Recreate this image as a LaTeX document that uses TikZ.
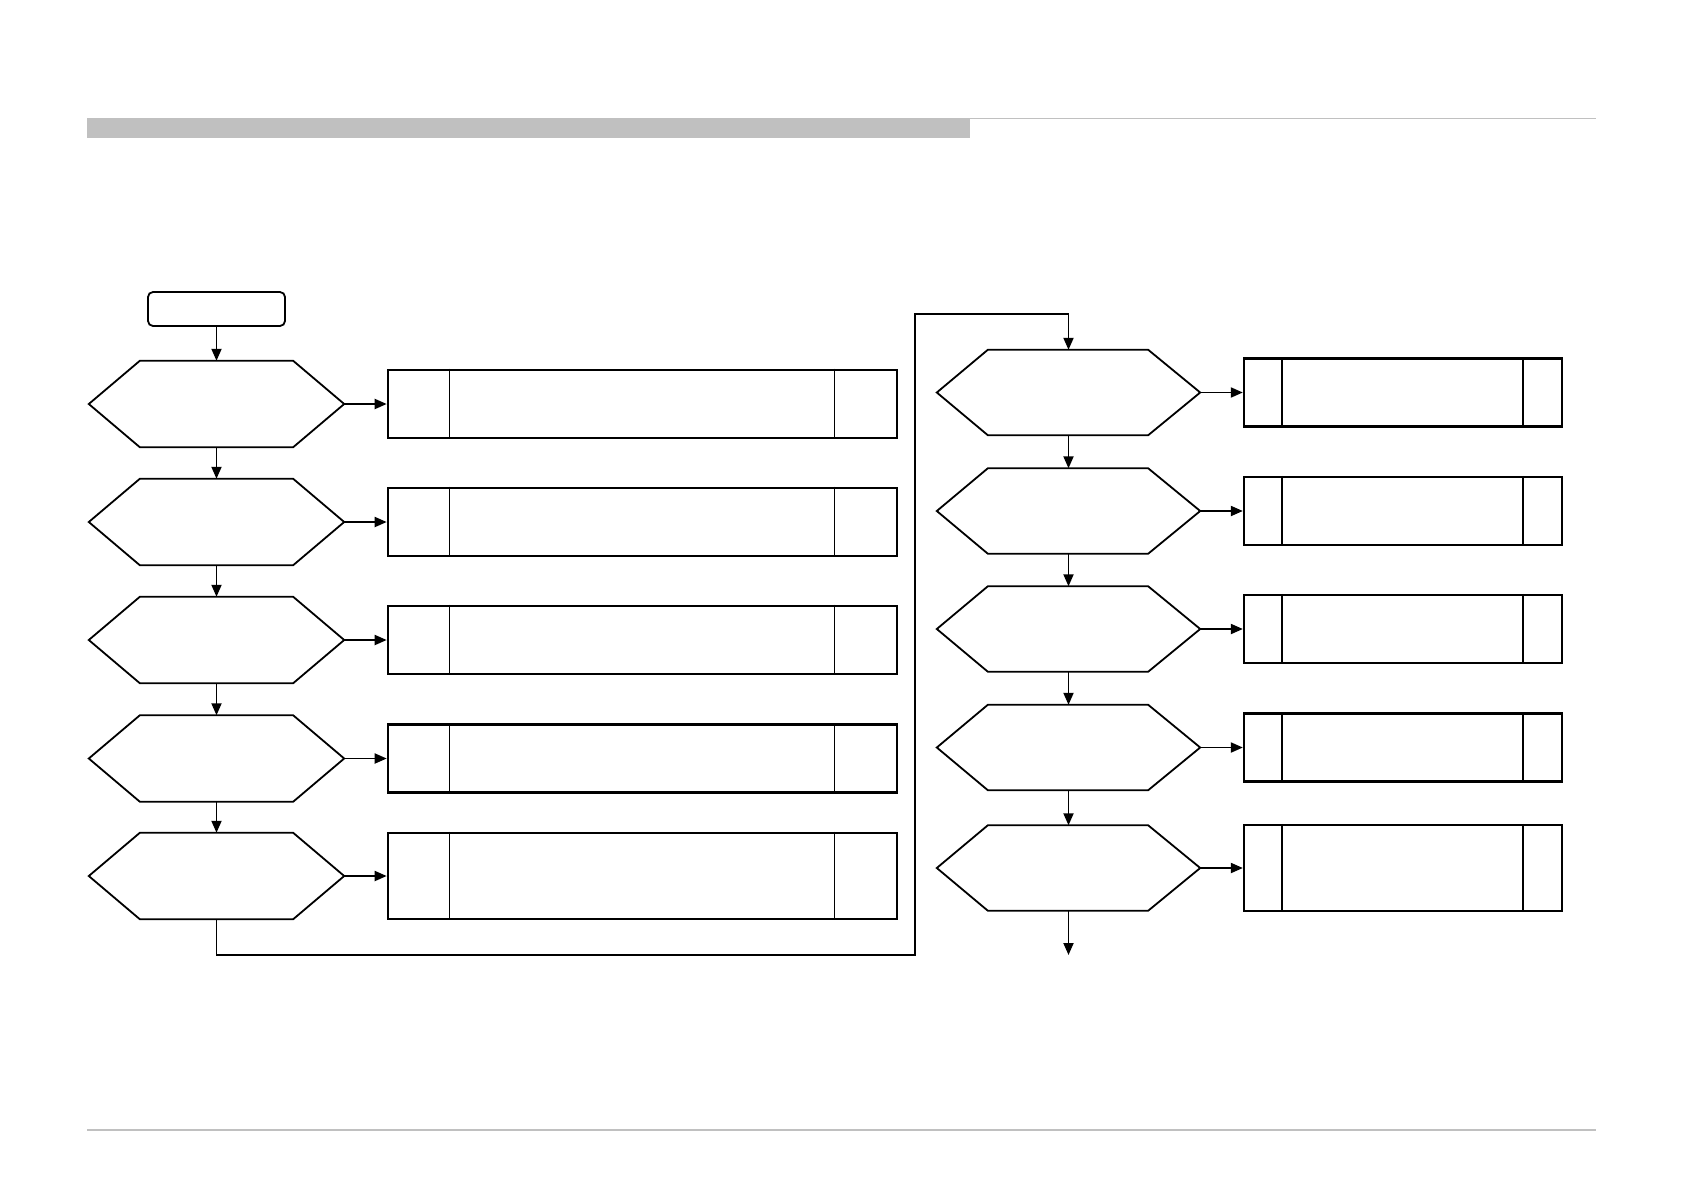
\documentclass[tikz,border=0pt]{standalone}
\usetikzlibrary{arrows.meta}
\definecolor{hdr}{RGB}{192,192,192}
\tikzset{
  hexbox/.style={rectangle,inner sep=0pt,minimum height=86pt},
  hexline/.style={line width=1.8pt,line join=miter},
  stepbox/.style={draw,rectangle,inner sep=0pt,line width=2.6pt},
  divline/.style={line width=1.5pt},
  startbox/.style={draw,rectangle,rounded corners=5pt,inner sep=0pt,minimum width=137pt,minimum height=34pt,line width=1.8pt},
  flow/.style={line width=1.9pt,-{Triangle[length=12pt,width=10pt]}},
  plain/.style={line width=1.9pt}
}
\begin{document}
\begin{tikzpicture}[x=1pt,y=-1pt]
\useasboundingbox (0,0) rectangle (1684,1191);
% header and footer
\fill[hdr] (87,118) rectangle (970,137.5);
\draw[hdr,line width=1.5pt] (970,118.5) -- (1596,118.5);
\draw[hdr,line width=1.5pt] (87,1130) -- (1596,1130);
% start
\node[startbox] (s) at (216.5,309) {};
% left column
\foreach \i/\y/\bh in {1/404/68,2/522/68,3/640/68,4/758.5/68,5/876/86}{
  \node[hexbox,minimum width=255pt] (h\i) at (216.5,\y) {};
  \draw[hexline] (h\i.west) -- ([xshift=51pt]h\i.north west) -- ([xshift=-51pt]h\i.north east) -- (h\i.east) -- ([xshift=-51pt]h\i.south east) -- ([xshift=51pt]h\i.south west) -- cycle;
  \node[stepbox,minimum width=509pt,minimum height=\bh pt] (b\i) at (642.5,\y) {};
  \draw[divline] ([xshift=63pt]b\i.north west) -- ([xshift=63pt]b\i.south west);
  \draw[divline] ([xshift=-64pt]b\i.north east) -- ([xshift=-64pt]b\i.south east);
  \draw[flow] (h\i.east) -- (b\i.west);
}
% right column
\foreach \i/\y/\bh in {1/392.5/68,2/511/68,3/629/68,4/747.5/68,5/868/86}{
  \node[hexbox,minimum width=263pt,minimum height=85pt] (r\i) at (1068.5,\y) {};
  \draw[hexline] (r\i.west) -- ([xshift=51pt]r\i.north west) -- ([xshift=-52pt]r\i.north east) -- (r\i.east) -- ([xshift=-52pt]r\i.south east) -- ([xshift=51pt]r\i.south west) -- cycle;
  \node[stepbox,line width=2.3pt,minimum width=318pt,minimum height=\bh pt] (c\i) at (1403,\y) {};
  \draw[divline] ([xshift=39pt]c\i.north west) -- ([xshift=39pt]c\i.south west);
  \draw[divline] ([xshift=-40pt]c\i.north east) -- ([xshift=-40pt]c\i.south east);
  \draw[flow] (r\i.east) -- (c\i.west);
}
% vertical flow
\draw[flow] (s.south) -- (h1.north);
\draw[flow] (h1.south) -- (h2.north);
\draw[flow] (h2.south) -- (h3.north);
\draw[flow] (h3.south) -- (h4.north);
\draw[flow] (h4.south) -- (h5.north);
\draw[flow] (r1.south) -- (r2.north);
\draw[flow] (r2.south) -- (r3.north);
\draw[flow] (r3.south) -- (r4.north);
\draw[flow] (r4.south) -- (r5.north);
% loop connector
\coordinate (k1) at (216.5,955);
\coordinate (k2) at (915,955);
\coordinate (k3) at (915,314);
\coordinate (k4) at (1068.5,314);
\draw[flow,line join=miter] (h5.south) -- (k1) -- (k2) -- (k3) -- (k4) -- (r1.north);
% final exit
\coordinate (e) at (1068.5,955);
\draw[flow] (r5.south) -- (e);
\end{tikzpicture}
\end{document}
